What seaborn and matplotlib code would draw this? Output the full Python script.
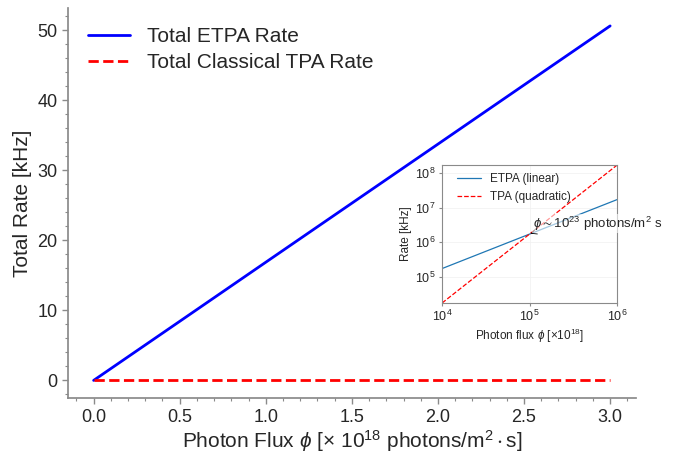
import numpy as np
import pandas as pd
import matplotlib
matplotlib.use("Agg")
import matplotlib.pyplot as plt
import seaborn as sns

# Datos del panel principal
flujo = [0.0, 0.5, 1.0, 1.5, 2.0, 2.5, 3.0]
tasa_etpa = [0.0, 8.43, 16.87, 25.3, 33.73, 42.17, 50.6]
tasa_tpa = [0.0, 0.0, 0.0, 0.0, 0.0, 0.0, 0.0]

# Datos del recuadro (log-log)
flujo_inset = [1e4, 1e5, 1e6]
etpa_inset = [1.7e5, 1.7e6, 1.7e7]
tpa_inset = [1.7e4, 1.7e6, 1.7e8]

sns.set_theme(style="ticks")
plt.rcParams["font.family"] = ["Liberation Sans", "DejaVu Sans"]
plt.rcParams["mathtext.fontset"] = "custom"
plt.rcParams["mathtext.rm"] = "Liberation Sans"
plt.rcParams["mathtext.it"] = "Liberation Sans:italic"
plt.rcParams["mathtext.bf"] = "Liberation Sans:bold"
plt.rcParams["mathtext.fallback"] = "stixsans"

gris = "#8a8a8a"

fig = plt.figure(figsize=(6.78, 4.55), dpi=100)
ax = fig.add_axes([0.100, 0.125, 0.838, 0.857])

sns.lineplot(x=flujo, y=tasa_etpa, ax=ax, color="blue", lw=2,
             label="Total ETPA Rate")
sns.lineplot(x=flujo, y=tasa_tpa, ax=ax, color="red", lw=2,
             linestyle="--", label="Total Classical TPA Rate")

ax.set_xlabel(r"Photon Flux $\phi$ [$\times$ $10^{18}$ photons/m$^2\cdot$s]",
              fontsize=15, labelpad=2)
ax.set_ylabel("Total Rate [kHz]", fontsize=15)
ax.minorticks_on()
ax.tick_params(which="major", labelsize=13, length=4, width=1,
               color=gris, labelcolor="#262626")
ax.tick_params(which="minor", length=2, width=0.8, color=gris)
for s in ax.spines.values():
    s.set_color(gris)
ax.legend(loc="upper left", frameon=False, fontsize=15,
          bbox_to_anchor=(0.003, 1.0), handlelength=2.0,
          labelspacing=0.35)
sns.despine(ax=ax)

# Recuadro
axin = fig.add_axes([0.652, 0.334, 0.258, 0.303])
sns.lineplot(x=flujo_inset, y=etpa_inset, ax=axin, color="#1f77b4",
             lw=0.9, label="ETPA (linear)")
sns.lineplot(x=flujo_inset, y=tpa_inset, ax=axin, color="red",
             lw=0.9, linestyle="--", label="TPA (quadratic)")
axin.set_xscale("log")
axin.set_yscale("log")
axin.set_xlim(1e4, 1e6)
axin.set_ylim(1.7e4, 1.7e8)
axin.set_facecolor("white")
for s in axin.spines.values():
    s.set_color(gris)
    s.set_linewidth(0.8)
axin.grid(True, which="major", color="#f0f0f0", lw=0.5)
axin.minorticks_off()
axin.tick_params(labelsize=9, length=2.5, width=0.8, color=gris,
                 labelcolor="#262626", pad=2)
axin.set_xlabel(r"Photon flux $\phi$ [$\times 10^{18}$]", fontsize=8.5,
                labelpad=2)
axin.set_ylabel("Rate [kHz]", fontsize=8.5, labelpad=2)
axin.legend(loc="upper left", frameon=False, fontsize=8.5,
            bbox_to_anchor=(0.04, 1.0), borderaxespad=0.3,
            handlelength=2.0, handletextpad=0.8)
axin.annotate(r"$\phi\sim10^{23}$ photons/m$^2$ s",
              xy=(1.03e5, 1.75e6), xytext=(1.1e5, 2.6e6),
              fontsize=9.5, annotation_clip=False,
              bbox=dict(fc="white", ec="none", alpha=0.6, pad=0.5),
              arrowprops=dict(arrowstyle="->", color="black", lw=0.6,
                              relpos=(0.0, 0.0), shrinkA=0, shrinkB=0))

fig.savefig("out.png", dpi=100)
